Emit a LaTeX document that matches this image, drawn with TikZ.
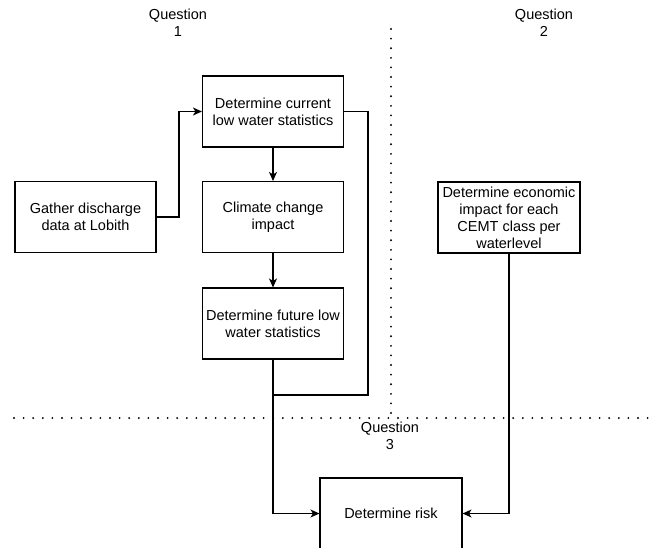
\documentclass[tikz,border=0pt]{standalone}
\usepackage{fontspec}
\setmainfont{Liberation Sans}
\usetikzlibrary{arrows.meta}
\begin{document}
\begin{tikzpicture}[x=1pt,y=-1pt,
  every node/.style={font=\fontsize{14.5}{17}\selectfont, align=center},
  box/.style={draw, line width=1.1pt, minimum width=141pt, minimum height=71pt, inner sep=1pt},
  conn/.style={line width=1.1pt},
  arr/.style={conn, -{Stealth[length=9pt,width=8pt,inset=2.5pt]}},
  sep/.style={line width=2.1pt, line cap=round, dash pattern=on 0pt off 9.6pt},
  lbl/.style={inner sep=0pt}]
\useasboundingbox (0,0) rectangle (656,547);
% separators
\coordinate (v1) at (391,29);
\coordinate (v2) at (391,418);
\coordinate (h1) at (14,418);
\coordinate (h2) at (656,418);
\draw[sep] (v1) -- (v2);
\draw[sep] (h1) -- (h2);
% labels
\node[lbl] (q1) at (178,23) {Question\\1};
\node[lbl] (q2) at (544,23) {Question\\2};
\node[lbl] (q3) at (390,436) {Question\\3};
% boxes
\node[box] (cur) at (273,111.5) {Determine current\\low water statistics};
\node[box] (clim) at (273,217) {Climate change\\impact};
\node[box] (fut) at (273,323.5) {Determine future low\\water statistics};
\node[box] (gath) at (85.5,217) {Gather discharge\\data at Lobith};
\node[box, minimum width=142pt] (econ) at (509,217.5) {Determine economic\\impact for each\\CEMT class per\\waterlevel};
\node[box, minimum width=142pt] (risk) at (391,513.5) {Determine risk};
% connectors
\coordinate (j1) at (179,111.5);
\coordinate (j2) at (368,395);
\coordinate (j3) at (273,395);
\draw[arr] (gath.east) -| (j1) -- (cur.west);
\draw[arr] (cur.south) -- (clim.north);
\draw[arr] (clim.south) -- (fut.north);
\draw[conn] (cur.east) -| (j2) -- (j3);
\draw[arr] (fut.south) |- (risk.west);
\draw[arr] (econ.south) |- (risk.east);
\end{tikzpicture}
\end{document}
